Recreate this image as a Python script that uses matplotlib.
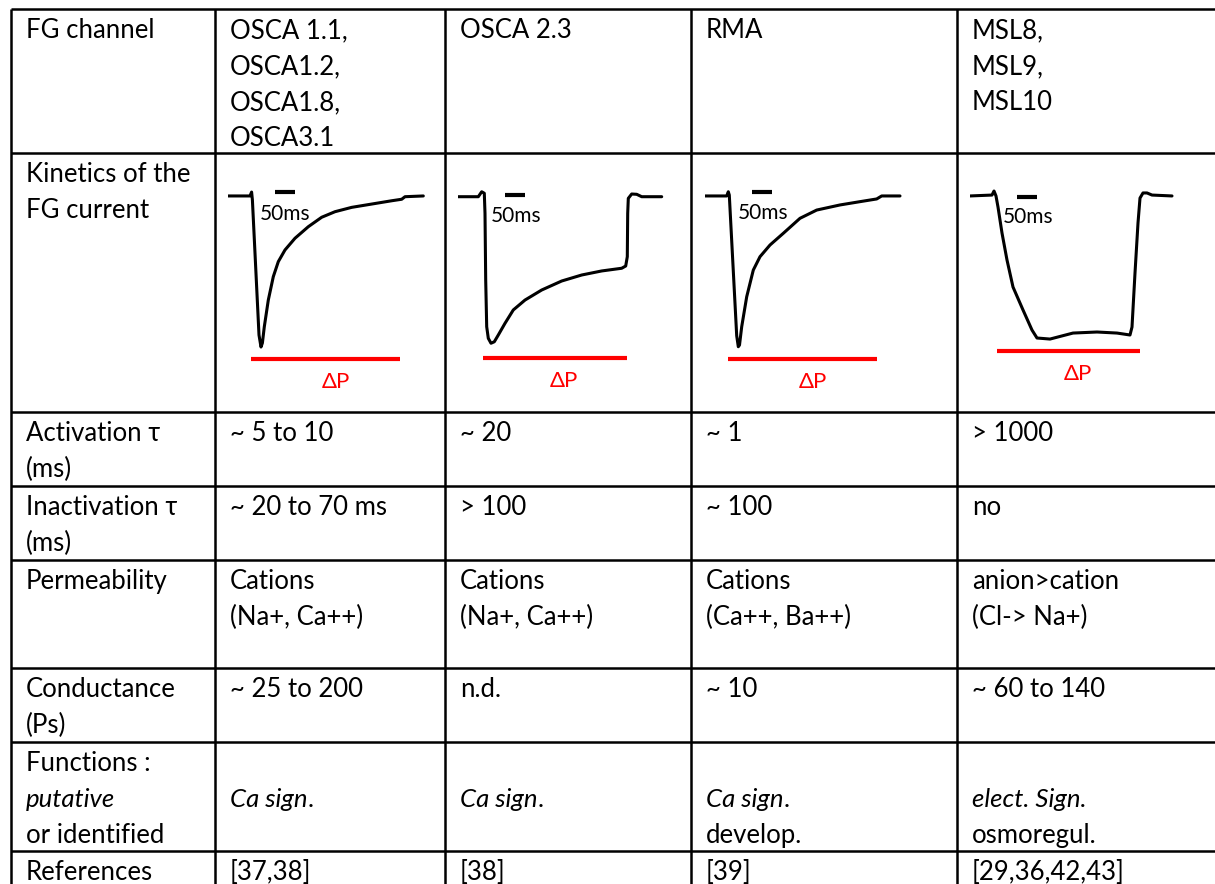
import matplotlib
matplotlib.use("Agg")
import matplotlib.pyplot as plt

plt.rcParams['font.family'] = ['Lato', 'DejaVu Sans']

W, H = 1215, 884
FS = 18.5          # body text size
FIRST = 29         # baseline offset of first line in a cell
STEP = 36          # line step

# table grid in pixels
col_edges = [11, 215, 445, 691, 957]
row_edges = [9, 153, 412, 486, 560, 668, 742, 851]

# ---- table content ----
row_labels = [
    [[("FG channel", "normal")]],
    [[("Kinetics of the", "normal")], [("FG current", "normal")]],
    [[("Activation τ", "normal")], [("(ms)", "normal")]],
    [[("Inactivation τ", "normal")], [("(ms)", "normal")]],
    [[("Permeability", "normal")]],
    [[("Conductance", "normal")], [("(Ps)", "normal")]],
    [[("Functions :", "normal")], [("putative", "italic")], [("or identified", "normal")]],
    [[("References", "normal")]],
]
channels = [["OSCA 1.1,", "OSCA1.2,", "OSCA1.8,", "OSCA3.1"], ["OSCA 2.3"], ["RMA"],
            ["MSL8,", "MSL9,", "MSL10"]]
activation = ["~ 5 to 10", "~ 20", "~ 1", "> 1000"]
inactivation = ["~ 20 to 70 ms", "> 100", "~ 100", "no"]
permeability = [["Cations", "(Na+, Ca++)"], ["Cations", "(Na+, Ca++)"],
                ["Cations", "(Ca++, Ba++)"], ["anion>cation", "(Cl-> Na+)"]]
conductance = ["~ 25 to 200", "n.d.", "~ 10", "~ 60 to 140"]
functions = [
    [[("Ca sign", "italic"), (".", "normal")]],
    [[("Ca sign", "italic"), (".", "normal")]],
    [[("Ca sign", "italic"), (".", "normal")], [("develop.", "normal")]],
    [[("elect. Sign.", "italic")], [("osmoregul.", "normal")]],
]
references = ["[37,38]", "[38]", "[39]", "[29,36,42,43]"]

# ---- hand-drawn current traces: time (ms), current (normalised, 0 = rest) ----
trace_t = [
    [0, 55, 59, 61, 77.5, 82.5, 86, 90.75, 100.75, 113.25, 125.75, 142.5, 167.5,
     200.75, 234.25, 267.5, 309.25, 359.25, 409.25, 434.25, 442.5, 488.25],
    [0, 50.75, 59.25, 65.75, 67.5, 69.25, 71.75, 75.75, 82.5, 90.75, 100.75, 117.5,
     138.25, 167.5, 209.25, 259.25, 309.25, 359.25, 409.25, 419.25, 423.25, 424.25,
     425.75, 434.25, 446.75, 459.25, 509.25],
    [0, 54.25, 58.25, 60.75, 79.25, 83.25, 86.25, 91.75, 104.25, 120.75, 137.5, 162.5,
     195.75, 237.5, 279.25, 337.5, 387.5, 429.25, 441.75, 487.5],
    [0, 55, 60, 65, 70, 80, 92.5, 107.5, 132.5, 155, 167.5, 200, 257.5, 317.5, 367.5,
     400, 405, 412.5, 420, 425, 432.5, 442.5, 455, 505],
]
trace_i = [
    [0.007, 0.007, 0.033, -0.02, -0.92, -1.0, -0.973, -0.865, -0.687, -0.531, -0.431,
     -0.353, -0.275, -0.198, -0.135, -0.098, -0.069, -0.047, -0.025, -0.015, 0.002,
     0.007],
    [0.002, 0.002, 0.035, 0.025, -0.109, -0.553, -0.865, -0.942, -0.975, -0.965, -0.92,
     -0.842, -0.753, -0.687, -0.62, -0.56, -0.52, -0.493, -0.475, -0.46, -0.398, -0.109,
     -0.009, 0.02, 0.018, 0.002, 0.002],
    [0.007, 0.007, 0.035, 0.013, -0.925, -0.998, -0.987, -0.865, -0.665, -0.487, -0.398,
     -0.32, -0.242, -0.142, -0.087, -0.053, -0.031, -0.013, 0.007, 0.007],
    [0.007, 0.013, 0.04, 0.007, -0.067, -0.24, -0.42, -0.6, -0.753, -0.887, -0.94,
     -0.947, -0.907, -0.9, -0.907, -0.92, -0.867, -0.507, -0.173, -0.007, 0.027, 0.027,
     0.013, 0.007],
]
# pressure step (ms) and 50 ms scale bar start (ms)
dp_on = [57.5, 62.5, 57.5, 67.5]
dp_off = [430, 422.5, 430, 425]
bar_start = [117.5, 117.5, 117.5, 117.5]
bar_len = 50

# placement inside the trace axes (layout only)
dp_level = [-1.08, -1.073, -1.08, -1.027]
dp_label_x = [270, 265, 270, 270]
dp_label_y = [-1.273, -1.267, -1.273, -1.22]
bar_level = [0.031, 0.011, 0.033, 0.0]
ms_label_x = [80, 82.5, 82.5, 82.5]
ms_label_y = [-0.15, -0.165, -0.147, -0.173]
trace_dx = [13, 13, 14, 13]

fig = plt.figure(figsize=(W / 100, H / 100), dpi=100)
ax = fig.add_axes([0, 0, 1, 1])
ax.set_xlim(0, W)
ax.set_ylim(H, 0)
ax.axis('off')

# grid
ax.hlines(row_edges, col_edges[0], W, color='black', lw=1.8)
ax.vlines(col_edges, row_edges[0], H, color='black', lw=1.8)

renderer = fig.canvas.get_renderer()


def put_segments(x, y, segments):
    # draw a line of text made of pieces with different styles
    for text, style in segments:
        fam = ['Lato', 'Liberation Serif'] if 'τ' in text else ['Lato', 'DejaVu Sans']
        t = ax.text(x, y, text, fontsize=FS, style=style, family=fam,
                    ha='left', va='baseline', color='black')
        x += t.get_window_extent(renderer).width


def put_lines(col, row, lines, start=0):
    x = col_edges[col] + 15
    for k, line in enumerate(lines):
        if isinstance(line, str):
            line = [(line, "normal")]
        put_segments(x, row_edges[row] + FIRST + STEP * (k + start), line)


for r, lines in enumerate(row_labels):
    put_lines(0, r, lines)

for c in range(4):
    put_lines(c + 1, 0, channels[c])
    put_lines(c + 1, 2, [activation[c]])
    put_lines(c + 1, 3, [inactivation[c]])
    put_lines(c + 1, 4, permeability[c])
    put_lines(c + 1, 5, [conductance[c]])
    put_lines(c + 1, 6, functions[c], start=1)
    put_lines(c + 1, 7, [references[c]])

# traces
for c in range(4):
    left = col_edges[c + 1] + trace_dx[c]
    tax = fig.add_axes([left / W, 1 - 400 / H, 220 / W, 240 / H])
    tax.set_xlim(0, 550)
    tax.set_ylim(-1.3533, 0.2467)
    tax.axis('off')
    tax.plot(trace_t[c], trace_i[c], color='black', lw=2.2,
             solid_joinstyle='round', solid_capstyle='round')
    tax.plot([bar_start[c], bar_start[c] + bar_len], [bar_level[c], bar_level[c]],
             color='black', lw=3, solid_capstyle='butt')
    tax.text(ms_label_x[c], ms_label_y[c], "50ms", fontsize=15, ha='left',
             va='baseline', color='black')
    tax.plot([dp_on[c], dp_off[c]], [dp_level[c], dp_level[c]], color='#ff0000',
             lw=3, solid_capstyle='butt')
    tax.text(dp_label_x[c], dp_label_y[c], "ΔP", fontsize=16,
             ha='center', va='baseline', color='#ff0000')

fig.savefig("out.png", dpi=100)
